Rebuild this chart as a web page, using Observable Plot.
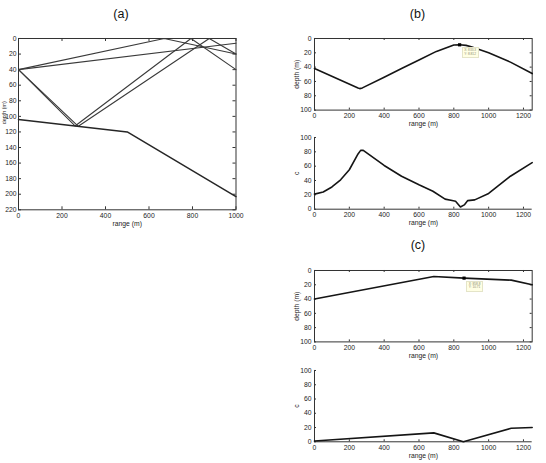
<!DOCTYPE html>
<html>
<head>
<meta charset="utf-8">
<script src="https://cdn.jsdelivr.net/npm/d3@7"></script>
<script src="https://cdn.jsdelivr.net/npm/@observablehq/plot@0.6"></script>
<style>
  html, body { margin: 0; padding: 0; background: #fff; }
  #page { position: relative; width: 546px; height: 463px; overflow: hidden;
          font-family: "Liberation Sans", Arial, sans-serif; }
  .title { position: absolute; font-size: 12.5px; color: #111; transform: translate(-50%, -50%); white-space: nowrap; }
  .panel { position: absolute; }
  .tip { position: absolute; background: #ffffe4; border: 0.5px solid #e4e4c8; color: #8a8a70;
         font-size: 3.2px; line-height: 3.9px; padding: 0.6px 1.6px; white-space: pre; }
</style>
</head>
<body>
<div id="page"></div>
<script>
// (a) ray paths from a source at 40 m over a sloping bottom
const rayRanges = [[0, 670, 1000], [0, 1000], [0, 260, 793, 1000], [0, 275, 877, 1000]];
const rayDepths = [[40, 0, 20], [40, 6], [40, 112.3, 0, 40], [40, 112.8, 0, 20]];
const bottomRange = [0, 500, 1000];
const bottomDepth = [104, 120, 203];
const aRangeTicks = [0, 200, 400, 600, 800, 1000];
const aDepthTicks = [0, 20, 40, 60, 80, 100, 120, 140, 160, 180, 200, 220];

// (b) depth profile and c along range
const bRange = [0, 250, 260, 275, 400, 500, 600, 700, 800, 833.3, 870, 900, 1000, 1125, 1250];
const bDepth = [42, 69, 70, 69, 54, 42, 30, 18, 9, 8.812, 9.6, 11.5, 20, 33, 49];
const bcRange = [0, 50, 100, 150, 200, 250, 265, 280, 400, 500, 600, 680, 750, 790, 810, 838, 860, 880, 920, 1000, 1125, 1250];
const bcValue = [21, 24, 31, 41, 55, 77, 82, 82, 61, 46, 34, 25, 14, 12, 11, 3, 6, 12, 13, 22, 46, 65];
const bTipRange = 833.3;
const bTipDepth = 8.812;

// (c) depth profile and c along range
const cRange = [0, 685, 858.8, 1130, 1250];
const cDepth = [40, 8.5, 10.71, 13.5, 20];
const ccRange = [0, 685, 855, 1130, 1250];
const ccValue = [1, 12.5, 0, 19, 20];
const cTipRange = 858.8;
const cTipDepth = 10.71;

const rightRangeTicks = [0, 200, 400, 600, 800, 1000, 1200];
const hundredTicks = [0, 20, 40, 60, 80, 100];

const FONT = "'Liberation Sans', Arial, sans-serif";
const AXIS = "#333";
const page = document.getElementById("page");

function addTitle(text, x, y) {
  const d = document.createElement("div");
  d.className = "title";
  d.textContent = text;
  d.style.left = x + "px";
  d.style.top = y + "px";
  page.appendChild(d);
}

// One axes box: the frame's top-left corner lands at (left, top) on the page
function panel({left, top, w, h, xDomain, xTicks, yDomain, yTicks, yReverse, yLabel, yTickPadding = 3,
                boxed, tickLen, marks, tip}) {
  const m = {l: 34, r: 14, t: 10, b: 30};
  const deco = [
    Plot.tickX(xTicks, {x: d => d, insetTop: h - tickLen, stroke: AXIS}),
    Plot.tickY(yTicks, {y: d => d, insetRight: w - tickLen, stroke: AXIS})
  ];
  if (boxed) {
    deco.push(
      Plot.tickX(xTicks, {x: d => d, insetBottom: h - tickLen, stroke: AXIS}),
      Plot.tickY(yTicks, {y: d => d, insetLeft: w - tickLen, stroke: AXIS}),
      Plot.frame({stroke: AXIS})
    );
  } else {
    deco.push(
      Plot.ruleX([xDomain[0]], {stroke: AXIS}),
      Plot.ruleY([yDomain[0]], {stroke: AXIS})
    );
  }
  const chart = Plot.plot({
    width: w + m.l + m.r,
    height: h + m.t + m.b,
    marginLeft: m.l, marginRight: m.r, marginTop: m.t, marginBottom: m.b,
    style: {fontFamily: FONT, fontSize: "6.8px", color: "#222", background: "transparent", overflow: "visible"},
    x: {domain: xDomain, ticks: xTicks, tickFormat: "d", tickSize: 0, tickPadding: 3,
        label: "range (m)", labelAnchor: "center", labelOffset: 16, labelArrow: "none"},
    y: {domain: yDomain, reverse: yReverse, ticks: yTicks, tickFormat: "d", tickSize: 0, tickPadding: yTickPadding,
        label: yLabel, labelAnchor: "center", labelOffset: 20, labelArrow: "none"},
    marks: [...deco, ...marks]
  });
  const holder = document.createElement("div");
  holder.className = "panel";
  holder.style.left = (left - m.l) + "px";
  holder.style.top = (top - m.t) + "px";
  holder.appendChild(chart);
  page.appendChild(holder);

  if (tip) {
    const sx = chart.scale("x").apply(tip.x);
    const sy = chart.scale("y").apply(tip.y);
    const box = document.createElement("div");
    box.className = "tip";
    box.textContent = `X: ${tip.x}\nY: ${tip.y}`;
    box.style.left = (left - m.l + sx + 2.5) + "px";
    box.style.top = (top - m.t + sy + 3) + "px";
    page.appendChild(box);
  }
  return chart;
}

// (a)
const rays = rayRanges.flatMap((xs, i) => xs.map((x, j) => ({ray: i, range: x, depth: rayDepths[i][j]})));
const bottom = bottomRange.map((x, i) => ({range: x, depth: bottomDepth[i]}));
panel({
  left: 17.5, top: 37.7, w: 217.5, h: 171.3,
  xDomain: [0, 1000], xTicks: aRangeTicks,
  yDomain: [0, 220], yTicks: aDepthTicks, yReverse: true, yLabel: null, yTickPadding: 2,
  boxed: true, tickLen: 3,
  marks: [
    Plot.line(rays, {x: "range", y: "depth", z: "ray", stroke: "#3a3a3a", strokeWidth: 1.1}),
    Plot.line(bottom, {x: "range", y: "depth", stroke: "#262626", strokeWidth: 1.5}),
    // narrow left margin: the depth label sits at the very edge of the page
    Plot.text(["depth (m)"], {text: d => d, frameAnchor: "left", rotate: -90, dx: -14.6, fontSize: 5.4, fill: "#222"})
  ]
});

// (b) top
const bProfile = bRange.map((x, i) => ({range: x, depth: bDepth[i]}));
panel({
  left: 314, top: 37.7, w: 217.7, h: 71.6,
  xDomain: [0, 1250], xTicks: rightRangeTicks,
  yDomain: [0, 100], yTicks: hundredTicks, yReverse: true, yLabel: "depth (m)",
  boxed: true, tickLen: 2,
  marks: [
    Plot.line(bProfile, {x: "range", y: "depth", stroke: "#151515", strokeWidth: 1.6}),
    Plot.dot([{range: bTipRange, depth: bTipDepth}], {x: "range", y: "depth", symbol: "square", r: 1.8, fill: "#000", stroke: "none"})
  ],
  tip: {x: bTipRange, y: bTipDepth}
});

// (b) bottom
const bC = bcRange.map((x, i) => ({range: x, c: bcValue[i]}));
panel({
  left: 314, top: 137.3, w: 217.7, h: 71.7,
  xDomain: [0, 1250], xTicks: rightRangeTicks,
  yDomain: [0, 100], yTicks: hundredTicks, yReverse: false, yLabel: "c",
  boxed: false, tickLen: 2,
  marks: [Plot.line(bC, {x: "range", y: "c", stroke: "#151515", strokeWidth: 1.6})]
});

// (c) top
const cProfile = cRange.map((x, i) => ({range: x, depth: cDepth[i]}));
panel({
  left: 314, top: 270.3, w: 217.7, h: 71.4,
  xDomain: [0, 1250], xTicks: rightRangeTicks,
  yDomain: [0, 100], yTicks: hundredTicks, yReverse: true, yLabel: "depth (m)",
  boxed: true, tickLen: 2,
  marks: [
    Plot.line(cProfile, {x: "range", y: "depth", stroke: "#151515", strokeWidth: 1.6}),
    Plot.dot([{range: cTipRange, depth: cTipDepth}], {x: "range", y: "depth", symbol: "square", r: 1.8, fill: "#000", stroke: "none"})
  ],
  tip: {x: cTipRange, y: cTipDepth}
});

// (c) bottom
const cC = ccRange.map((x, i) => ({range: x, c: ccValue[i]}));
panel({
  left: 314, top: 369.7, w: 217.7, h: 71.3,
  xDomain: [0, 1250], xTicks: rightRangeTicks,
  yDomain: [0, 100], yTicks: hundredTicks, yReverse: false, yLabel: "c",
  boxed: false, tickLen: 2,
  marks: [Plot.line(cC, {x: "range", y: "c", stroke: "#151515", strokeWidth: 1.6})]
});

addTitle("(a)", 121, 14);
addTitle("(b)", 417.5, 13.5);
addTitle("(c)", 418, 245);
</script>
</body>
</html>
